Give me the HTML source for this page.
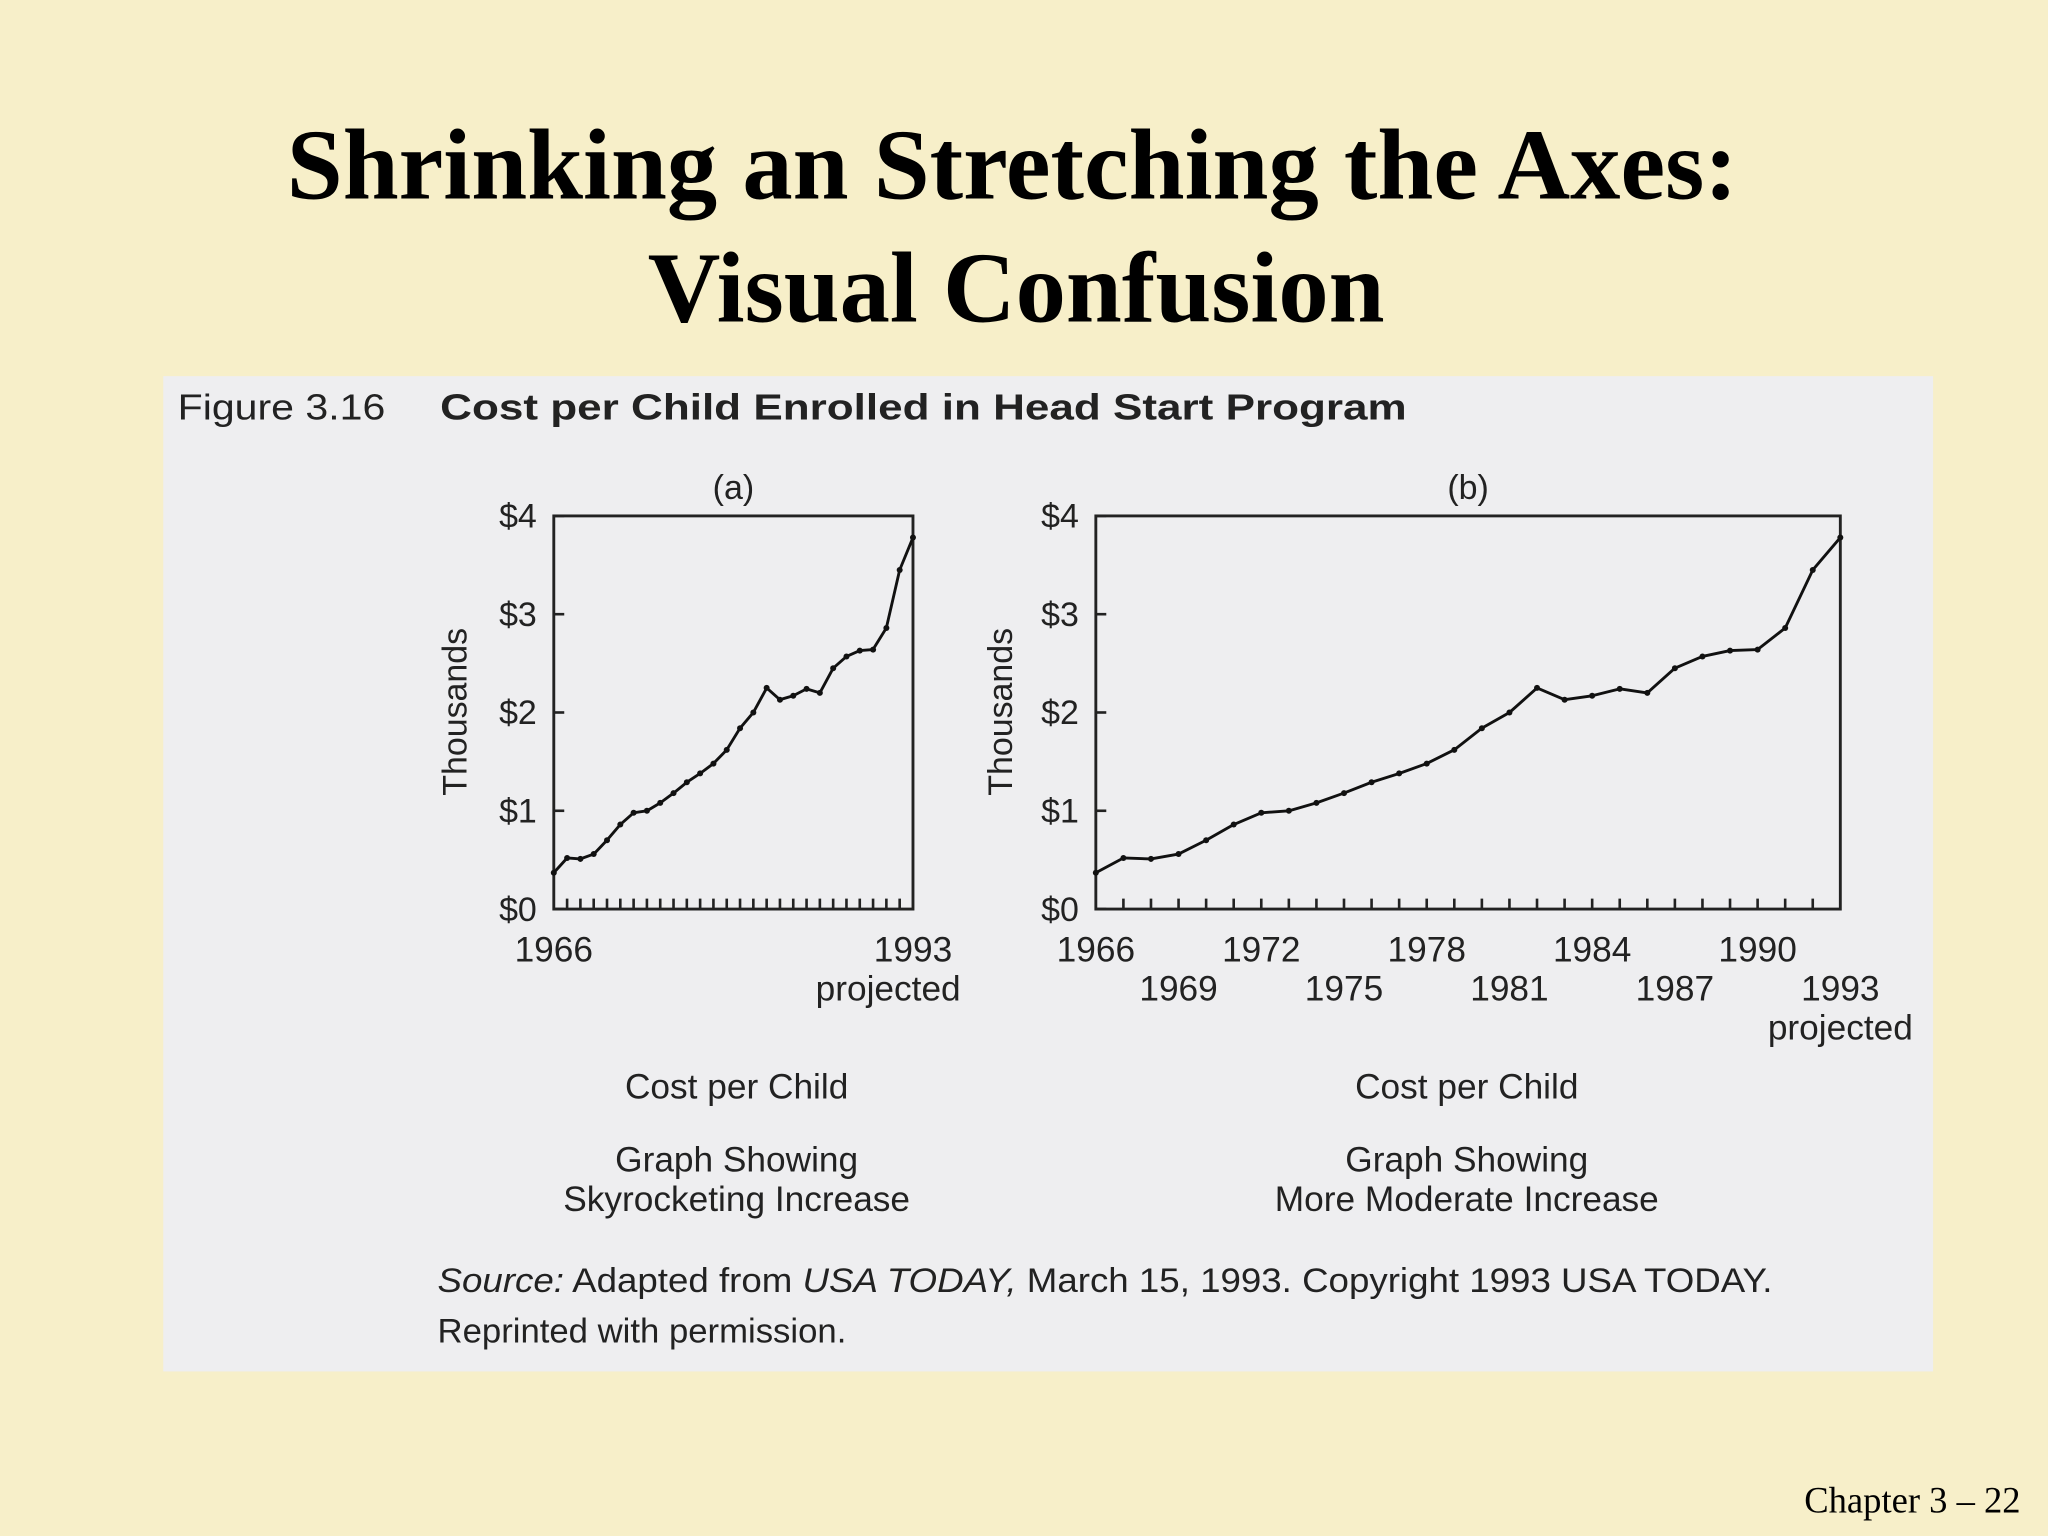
<!DOCTYPE html>
<html><head><meta charset="utf-8"><style>
html,body{margin:0;padding:0;background:#f7efc9;}
svg{display:block}
text{font-family:"Liberation Sans",sans-serif;fill:#222}
.serif{font-family:"Liberation Serif",serif;fill:#000}
</style></head><body>
<svg id="s" width="2048" height="1536" viewBox="0 0 1568 1176" xmlns="http://www.w3.org/2000/svg">
<rect x="0" y="0" width="1568" height="1176" fill="#f7efc9"/>
<text class="serif" x="775" y="152" font-size="77" font-weight="bold" text-anchor="middle">Shrinking an Stretching the Axes:</text>
<text class="serif" x="778" y="246" font-size="77" font-weight="bold" text-anchor="middle">Visual Confusion</text>
<rect x="125" y="288" width="1355" height="762" fill="#eeeef0"/>
<text x="136" y="321" font-size="28" textLength="159" lengthAdjust="spacingAndGlyphs">Figure 3.16</text>
<text x="337" y="321" font-size="28" font-weight="bold" textLength="740" lengthAdjust="spacingAndGlyphs">Cost per Child Enrolled in Head Start Program</text>
<g id="ga"></g>
<g id="gb"></g>
<text x="564" y="841" font-size="27" text-anchor="middle">Cost per Child</text>
<text x="564" y="897" font-size="27" text-anchor="middle">Graph Showing</text>
<text x="564" y="927" font-size="27" text-anchor="middle">Skyrocketing Increase</text>
<text x="1123" y="841" font-size="27" text-anchor="middle">Cost per Child</text>
<text x="1123" y="897" font-size="27" text-anchor="middle">Graph Showing</text>
<text x="1123" y="927" font-size="27" text-anchor="middle">More Moderate Increase</text>
<text x="335" y="989" font-size="26" textLength="1022" lengthAdjust="spacingAndGlyphs"><tspan font-style="italic">Source:</tspan> Adapted from <tspan font-style="italic">USA TODAY,</tspan> March 15, 1993. Copyright 1993 USA TODAY.</text>
<text x="335" y="1028" font-size="26" textLength="313" lengthAdjust="spacingAndGlyphs">Reprinted with permission.</text>
<text class="serif" x="1547" y="1158" font-size="28" text-anchor="end">Chapter 3 – 22</text>
</svg>
<script>
const years=[1966,1967,1968,1969,1970,1971,1972,1973,1974,1975,1976,1977,1978,1979,1980,1981,1982,1983,1984,1985,1986,1987,1988,1989,1990,1991,1992,1993];
const costs=[0.37,0.52,0.51,0.56,0.70,0.86,0.98,1.00,1.08,1.18,1.29,1.38,1.48,1.62,1.84,2.00,2.25,2.13,2.17,2.24,2.20,2.45,2.57,2.63,2.64,2.86,3.45,3.78];
const yTicks=[0,1,2,3,4];
const yTickLabels=['$0','$1','$2','$3','$4'];
const xLabelsA=[[1966,'1966',0],[1993,'1993',0]];
const xLabelsB=[[1966,'1966',0],[1972,'1972',0],[1978,'1978',0],[1984,'1984',0],[1990,'1990',0],[1969,'1969',1],[1975,'1975',1],[1981,'1981',1],[1987,'1987',1],[1993,'1993',1]];
const NS='http://www.w3.org/2000/svg';
function mk(p,t,a){const e=document.createElementNS(NS,t);for(const k in a)e.setAttribute(k,a[k]);p.appendChild(e);return e;}
function chart(g,L,R,T,B,labels,panel,tx){
  const x=v=>L+(v-1966)/(1993-1966)*(R-L);
  const y=v=>B-v/4*(B-T);
  const fr=mk(g,'rect',{x:L,y:T,width:R-L,height:B-T,fill:'none',stroke:'#222','stroke-width':2.2});
  
  
  yTicks.forEach((v,i)=>{
    const t=mk(g,'line',{x1:L,x2:L+8,y1:y(v),y2:y(v),stroke:'#222','stroke-width':2});
    
    
    const l=mk(g,'text',{x:L-13,y:y(v)+9,'font-size':26,'text-anchor':'end'});
    l.textContent=yTickLabels[i];
    
    
  });
  years.forEach(v=>{
    if(v===1966||v===1993)return;
    const t=mk(g,'line',{x1:x(v),x2:x(v),y1:B,y2:B-8,stroke:'#222','stroke-width':2});
    
    
  });
  labels.forEach(d=>{
    const l=mk(g,'text',{x:x(d[0]),y:736+d[2]*30,'font-size':27,'text-anchor':'middle'});
    l.textContent=d[1];
    
    
  });
  const pj=mk(g,'text',{x:x(1993)-(panel==='a'?19:0),y:labels.length>2?796:766,'font-size':27,'text-anchor':'middle'});
  pj.textContent='projected';
  
  
  const pl=mk(g,'text',{x:(L+R)/2,y:382,'font-size':26,'text-anchor':'middle'});
  pl.textContent='('+panel+')';
  
  
  const yt=mk(g,'text',{x:0,y:0,'font-size':26,'text-anchor':'middle',transform:`translate(${tx},545) rotate(-90)`});
  yt.textContent='Thousands';
  
  
  const pts=years.map((v,i)=>x(v).toFixed(1)+','+y(costs[i]).toFixed(1)).join(' ');
  const ln=mk(g,'polyline',{points:pts,fill:'none',stroke:'#111','stroke-width':2.2,'stroke-linejoin':'round'});
  
  
  years.forEach((v,i)=>{
    const c=mk(g,'circle',{cx:x(v),cy:y(costs[i]),r:2.3,fill:'#111'});
    
    
  });
}
chart(document.getElementById('ga'),424,699,395,696,xLabelsA,'a',357);
chart(document.getElementById('gb'),839,1409,395,696,xLabelsB,'b',775);
</script>
</body></html>
